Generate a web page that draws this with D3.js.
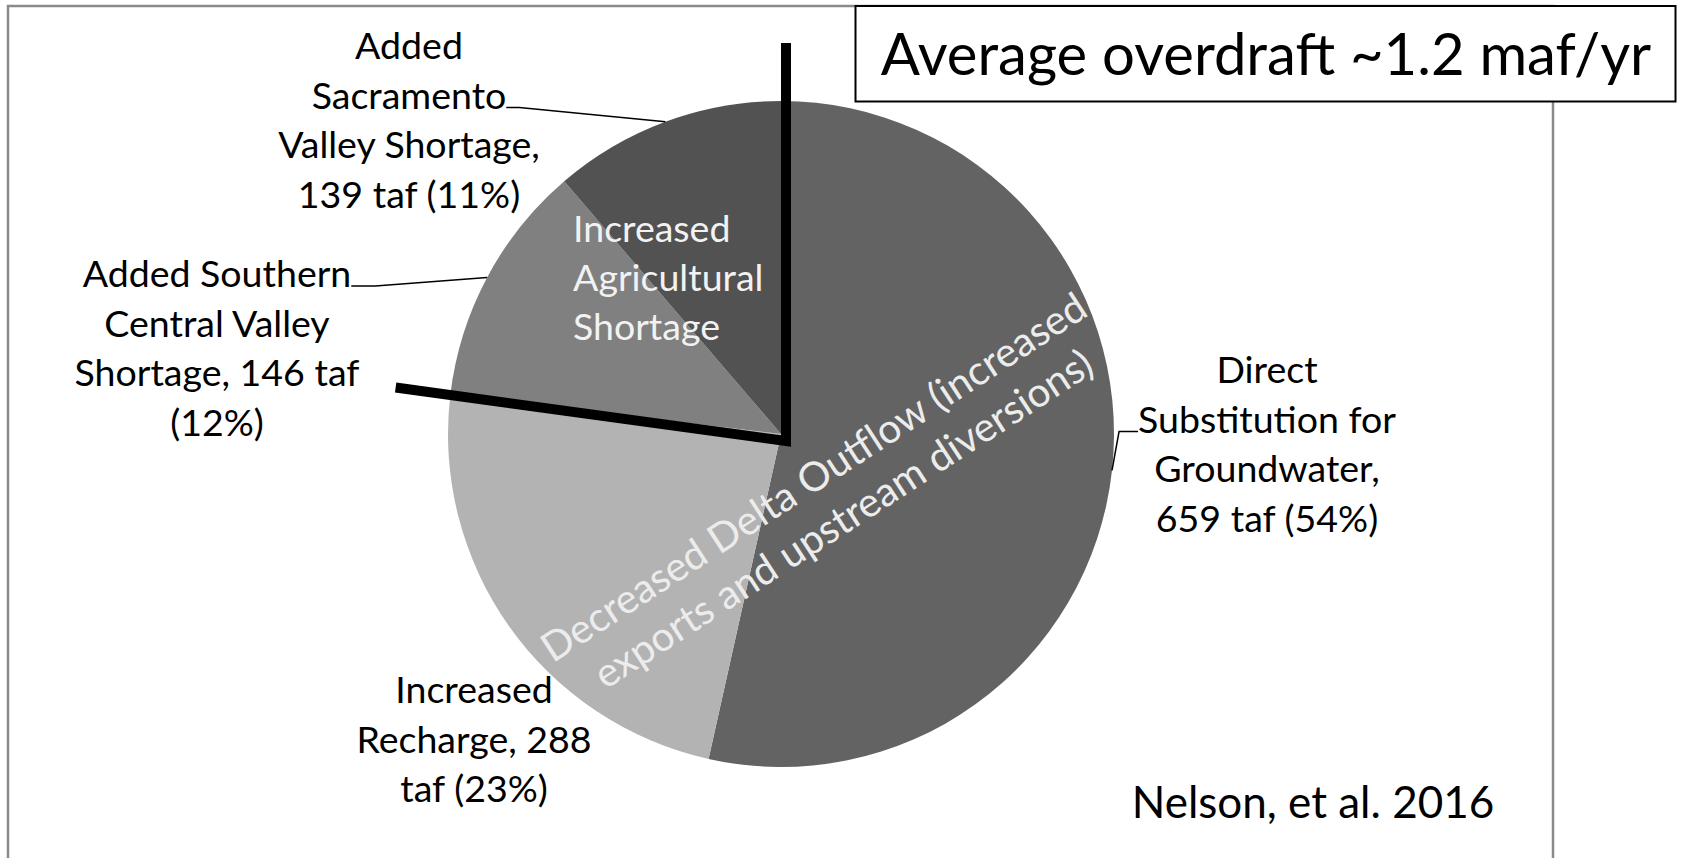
<!DOCTYPE html>
<html>
<head>
<meta charset="utf-8">
<script src="https://cdn.jsdelivr.net/npm/d3@7"></script>
<style>
  html, body { margin: 0; padding: 0; background: #fff; }
  svg { display: block; }
  text { font-family: Lato, "Open Sans", sans-serif; }
</style>
</head>
<body>
<svg id="chart" width="1682" height="858"></svg>
<script>
// ---- data ----
const categories = [
  "Direct Substitution for Groundwater",
  "Increased Recharge",
  "Added Southern Central Valley Shortage",
  "Added Sacramento Valley Shortage"
];
const values = [659, 288, 146, 139];          // taf
const percents = [54, 23, 12, 11];            // shown shares
const sliceColors = ["#636363", "#b3b3b3", "#808080", "#525252"];
const labelLines = [
  ["Direct", "Substitution for", "Groundwater,", "{v} taf ({p}%)"],
  ["Increased", "Recharge, {v}", "taf ({p}%)"],
  ["Added Southern", "Central Valley", "Shortage, {v} taf", "({p}%)"],
  ["Added", "Sacramento", "Valley Shortage,", "{v} taf ({p}%)"]
];
const titleText = "Average overdraft ~1.2 maf/yr";
const sourceText = "Nelson, et al. 2016";
const groupLabel = ["Increased", "Agricultural", "Shortage"];
const outflowLabel = ["Decreased Delta Outflow (increased", "exports and upstream diversions)"];

// ---- layout ----
const W = 1682, H = 858;
const cx = 781, cy = 434, radius = 333;
const labelFont = 37.5, lineH = 49.5;
// label block: centre x, first baseline y, leader line index, side of the text the leader leaves from, stub length
const labelLayout = [
  { x: 1267, y: 383, leaderLine: 1, side: "left",  stub: 19 },
  { x: 474,  y: 703, leaderLine: null },
  { x: 217,  y: 287, leaderLine: 0, side: "right", stub: 24 },
  { x: 409,  y: 59,  leaderLine: 1, side: "right", stub: 13 }
];

const svg = d3.select("#chart");

// outer chart frame
svg.append("rect")
  .attr("x", 8).attr("y", 6)
  .attr("width", 1545).attr("height", 900)
  .attr("fill", "none")
  .attr("stroke", "#8a8a8a")
  .attr("stroke-width", 2.5);

// ---- pie ----
const pie = d3.pie().sort(null).value(d => d)
  .startAngle(0).endAngle(2 * Math.PI);
const arcs = pie(values);
const arcGen = d3.arc().innerRadius(0).outerRadius(radius);

const g = svg.append("g").attr("transform", `translate(${cx},${cy})`);
g.selectAll("path.slice")
  .data(arcs)
  .join("path")
  .attr("class", "slice")
  .attr("d", arcGen)
  .attr("fill", (d, i) => sliceColors[i]);

const rimPoint = (angle, r) => [cx + r * Math.sin(angle), cy - r * Math.cos(angle)];

// ---- slice labels with leader lines ----
arcs.forEach((a, i) => {
  const lay = labelLayout[i];
  const lines = labelLines[i].map(s => s.replace("{v}", values[i]).replace("{p}", percents[i]));
  const t = svg.append("text")
    .attr("text-anchor", "middle")
    .attr("font-size", labelFont)
    .attr("fill", "#000");
  const spans = lines.map((s, k) =>
    t.append("tspan").attr("x", lay.x).attr("y", lay.y + k * lineH).text(s));

  if (lay.leaderLine !== null) {
    const span = spans[lay.leaderLine].node();
    const len = span.getComputedTextLength();
    const ly = lay.y + lay.leaderLine * lineH - 1;
    const x0 = lay.side === "left" ? lay.x - len / 2 : lay.x + len / 2;
    const x1 = lay.side === "left" ? x0 - lay.stub : x0 + lay.stub;
    const mid = (a.startAngle + a.endAngle) / 2;
    const [px, py] = rimPoint(mid, radius);
    svg.append("path")
      .attr("d", d3.line()([[x0, ly], [x1, ly], [px, py]]))
      .attr("fill", "none")
      .attr("stroke", "#000")
      .attr("stroke-width", 1.5);
  }
});

// ---- bracket lines around the agricultural shortage slices ----
const pivot = [cx + 5, cy + 7];
const agStart = arcs[2].startAngle;          // boundary Recharge / Southern
const agEnd = arcs[3].endAngle;              // top of the pie
const sepPts = [];
{
  const top = [pivot[0] + 398 * Math.sin(agEnd), pivot[1] - 398 * Math.cos(agEnd)];
  const rim = rimPoint(agStart, radius);
  const dx = rim[0] - pivot[0], dy = rim[1] - pivot[1];
  const L = Math.hypot(dx, dy);
  const left = [pivot[0] + dx / L * 394, pivot[1] + dy / L * 394];
  sepPts.push(top, pivot, left);
}
svg.append("path")
  .attr("d", d3.line()(sepPts))
  .attr("fill", "none")
  .attr("stroke", "#000")
  .attr("stroke-width", 10)
  .attr("stroke-linejoin", "miter");

// group label inside the agricultural slices
const gl = svg.append("text")
  .attr("font-size", labelFont)
  .attr("fill", "#f2f2f2");
groupLabel.forEach((s, k) =>
  gl.append("tspan").attr("x", 573).attr("y", 242 + k * 49).text(s));

// rotated label across the outflow slices
const ol = svg.append("text")
  .attr("transform", "translate(835,510) rotate(-33)")
  .attr("text-anchor", "middle")
  .attr("font-size", 40.5)
  .attr("fill", "#ececec");
outflowLabel.forEach((s, k) =>
  ol.append("tspan").attr("x", k === 0 ? 0 : 2).attr("y", k === 0 ? -25 : 26).text(s));

// ---- title box ----
svg.append("rect")
  .attr("x", 855.5).attr("y", 6)
  .attr("width", 820).attr("height", 95.5)
  .attr("fill", "#fff")
  .attr("stroke", "#000")
  .attr("stroke-width", 2);
svg.append("text")
  .attr("x", 1266).attr("y", 75)
  .attr("text-anchor", "middle")
  .attr("font-size", 58)
  .attr("fill", "#000")
  .text(titleText);

// source note
svg.append("text")
  .attr("x", 1313).attr("y", 818)
  .attr("text-anchor", "middle")
  .attr("font-size", 44)
  .attr("fill", "#000")
  .text(sourceText);
</script>
</body>
</html>
